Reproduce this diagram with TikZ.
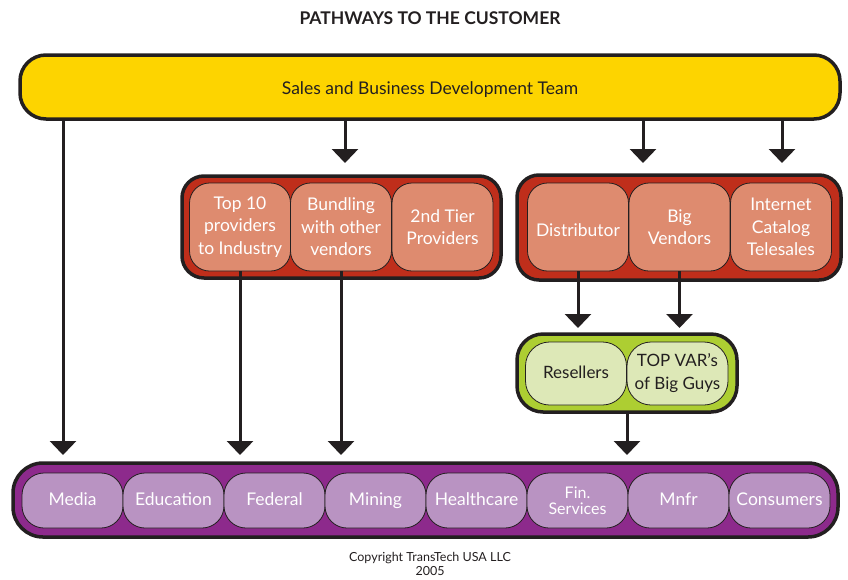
\documentclass[tikz,border=0pt]{standalone}
\usepackage{fontspec}
\setmainfont{Lato}
\usetikzlibrary{arrows.meta}

\definecolor{ink}{HTML}{231F20}
\definecolor{barYellow}{HTML}{FDD400}
\definecolor{grpRed}{HTML}{BF2E1B}
\definecolor{boxSalmon}{HTML}{DE8B6F}
\definecolor{grpGreen}{HTML}{ADCE32}
\definecolor{boxLime}{HTML}{DDE8B7}
\definecolor{grpPurple}{HTML}{8D2A8C}
\definecolor{boxLilac}{HTML}{B993C2}

\tikzset{
  group/.style={draw=ink, line width=3.5pt, rounded corners=22pt, inner sep=0pt},
  cell/.style={draw=ink, line width=0.8pt, inner sep=0pt, align=center,
               minimum width=101pt, text=white,
               font=\fontsize{17.5}{22.5}\selectfont},
  redcell/.style={cell, fill=boxSalmon, minimum height=88pt, rounded corners=20pt},
  greencell/.style={cell, fill=boxLime, minimum height=63pt, rounded corners=24pt,
                    text=ink, font=\fontsize{17}{23}\selectfont},
  purplecell/.style={cell, fill=boxLilac, minimum height=55pt, rounded corners=22pt,
                     font=\fontsize{17.5}{20}\selectfont},
  oneline/.style={text height=12.5pt, text depth=3.5pt},
  barline/.style={text height=17pt, text depth=2pt},
  lowline/.style={text height=20pt, text depth=1pt},
  link/.style={draw=ink, line width=3pt, -{Triangle[width=26pt,length=14pt]}},
}

\begin{document}
\begin{tikzpicture}[x=1pt,y=-1pt]
\useasboundingbox (0,0) rectangle (848,579);

% title
\node[text=ink] (title) at (430,18) {\fontsize{17.5}{20}\selectfont\bfseries PATHWAYS TO THE CUSTOMER};

% top bar
\node[group, fill=barYellow, minimum width=820pt, minimum height=64pt, rounded corners=26pt,
      font=\fontsize{17.5}{20}\selectfont, text=ink, barline] (sales) at (430,87)
  {Sales and Business Development Team};

% left channel group
\node[group, fill=grpRed, minimum width=319pt, minimum height=102pt] (leftgrp) at (341.5,227) {};
\node[redcell] (top10)  at (240,227)   {Top 10\\providers\\to Industry};
\node[redcell] (bundle) at (341,227)   {Bundling\\with other\\vendors};
\node[redcell] (tier2)  at (442.5,227) {2nd Tier\\Providers};

% right channel group
\node[group, fill=grpRed, minimum width=324pt, minimum height=105pt] (rightgrp) at (679,227.5) {};
\node[redcell, lowline] (distrib) at (578,227)   {Distributor};
\node[redcell] (bigvend) at (679.5,227) {Big\\Vendors};
\node[redcell] (icat)    at (781,227)   {Internet\\Catalog\\Telesales};

% reseller group
\node[group, fill=grpGreen, minimum width=220pt, minimum height=78pt, rounded corners=26pt] (greengrp) at (627,373) {};
\node[greencell, oneline] (resell) at (576,373.5)   {Resellers};
\node[greencell] (topvar) at (677.5,373.5) {TOP VAR’s\\of Big Guys};

% customer segments
\node[group, fill=grpPurple, minimum width=825pt, minimum height=74pt, rounded corners=30pt] (custgrp) at (425.5,500) {};
\node[purplecell, oneline] (media)  at (72.5,500.5)  {Media};
\node[purplecell, oneline] (edu)    at (173.5,500.5) {Education};
\node[purplecell, oneline] (fed)    at (274.5,500.5) {Federal};
\node[purplecell, oneline] (mining) at (375.5,500.5) {Mining};
\node[purplecell, oneline] (health) at (476.5,500.5) {Healthcare};
\node[purplecell, font=\fontsize{16}{16}\selectfont] (fin) at (577.5,500.5) {Fin.\\Services};
\node[purplecell, oneline] (mnfr)   at (678.5,500.5) {Mnfr};
\node[purplecell, oneline] (cons)   at (779.5,500.5) {Consumers};

% arrow end rows
\coordinate (upperrow) at (0,163);
\coordinate (midrow)   at (0,328);
\coordinate (lowrow)   at (0,455);
\coordinate (mediax)   at (63,0);
\coordinate (leftx)    at (345,0);
\coordinate (distx)    at (643,0);
\coordinate (catx)     at (782,0);

% connectors
\draw[link] (sales.south -| mediax) -- (mediax |- lowrow);
\draw[link] (sales.south -| leftx)  -- (leftx |- upperrow);
\draw[link] (sales.south -| distx)  -- (distx |- upperrow);
\draw[link] (sales.south -| catx)   -- (catx |- upperrow);
\draw[link] (top10.south)   -- (top10.south |- lowrow);
\draw[link] (bundle.south)  -- (bundle.south |- lowrow);
\draw[link] (distrib.south) -- (distrib.south |- midrow);
\draw[link] (bigvend.south) -- (bigvend.south |- midrow);
\draw[link] (greengrp.south) -- (greengrp.south |- lowrow);

% footer
\node[font=\fontsize{12.5}{14}\selectfont, align=center, text=ink] (copy) at (430,564)
  {Copyright TransTech USA LLC\\2005};
\end{tikzpicture}
\end{document}
